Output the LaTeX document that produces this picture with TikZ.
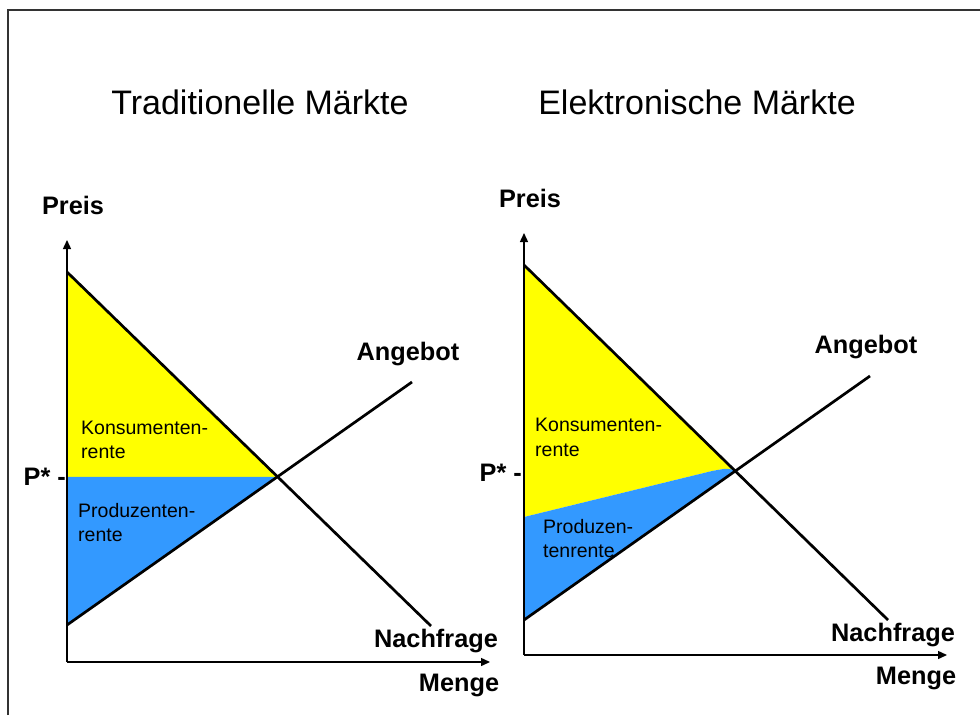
\documentclass[tikz,border=0pt]{standalone}
\usepackage{fontspec}
\setmainfont{Liberation Sans}
\usetikzlibrary{arrows.meta}
\definecolor{kyellow}{HTML}{FFFF00}
\definecolor{pblue}{HTML}{3399FF}
\definecolor{framegray}{HTML}{333333}
\tikzset{
  axis/.style={line width=1.4pt,-{Triangle[length=9pt,width=8pt]}},
  curve/.style={line width=2.7pt},
  title/.style={font=\fontsize{34}{40}\selectfont},
  lab/.style={font=\fontsize{25.3}{30}\selectfont\bfseries},
  area/.style={font=\fontsize{19.5}{23}\selectfont,anchor=base west,inner sep=0pt},
}
\begin{document}
\begin{tikzpicture}[x=1pt,y=-1pt]
\useasboundingbox (0,0) rectangle (980,715);
\fill[white] (0,0) rectangle (980,715);
% outer frame
\draw[framegray,line width=1.6pt] (8,715) -- (8,10) -- (980,10);

% ---------- traditional markets ----------
\coordinate (lO) at (67,662);
\coordinate (lDa) at (67,272);
\coordinate (lDb) at (431,626);
\coordinate (lSa) at (67,625);
\coordinate (lSb) at (412,382);
\coordinate (lE) at (intersection of lDa--lDb and lSa--lSb);
\coordinate (lP) at (lO |- lE);
\fill[kyellow] (lDa) -- (lE) -- (lP) -- cycle;
\fill[pblue] (lP) -- (lE) -- (lSa) -- cycle;
\draw[axis] (lO) -- (67,240);
\draw[axis] (lO) -- (490,662);
\draw[curve] (lDa) -- (lDb);
\draw[curve] (lSa) -- (lSb);
\node[title] (lt) at (260,102) {Traditionelle Märkte};
\node[lab] (lpreis) at (73,205) {Preis};
\node[lab] (langebot) at (408,354) {Angebot};
\node[lab] (lnachfrage) at (436,641) {Nachfrage};
\node[lab] (lmenge) at (459,685) {Menge};
\node[lab,anchor=east,inner sep=0pt] (lpstar) at (66,477) {P* -};
\node[area] (lk1) at (81,434) {Konsumenten-};
\node[area] (lk2) at (81,458) {rente};
\node[area] (lp1) at (78,517) {Produzenten-};
\node[area] (lp2) at (78,541) {rente};

% ---------- electronic markets ----------
\coordinate (rO) at (524,655);
\coordinate (rDa) at (524,265);
\coordinate (rDb) at (888,620);
\coordinate (rSa) at (524,620);
\coordinate (rSb) at (870,376);
\coordinate (rE) at (intersection of rDa--rDb and rSa--rSb);
\coordinate (rB) at (524,517);
\fill[kyellow] (rDa) -- (rE) .. controls (728,468) .. (712,471) -- (rB) -- cycle;
\fill[pblue] (rB) -- (712,471) .. controls (728,468) .. (rE) -- (rSa) -- cycle;
\draw[axis] (rO) -- (524,233);
\draw[axis] (rO) -- (947,655);
\draw[curve] (rDa) -- (rDb);
\draw[curve] (rSa) -- (rSb);
\node[title] (rt) at (697,102) {Elektronische Märkte};
\node[lab] (rpreis) at (530,198) {Preis};
\node[lab] (rangebot) at (866,347) {Angebot};
\node[lab] (rnachfrage) at (893,635) {Nachfrage};
\node[lab] (rmenge) at (916,678) {Menge};
\node[lab,anchor=east,inner sep=0pt] (rpstar) at (522,473) {P* -};
\node[area] (rk1) at (535,431) {Konsumenten-};
\node[area] (rk2) at (535,456) {rente};
\node[area] (rp1) at (543,533) {Produzen-};
\node[area] (rp2) at (543,557) {tenrente};
\end{tikzpicture}
\end{document}
